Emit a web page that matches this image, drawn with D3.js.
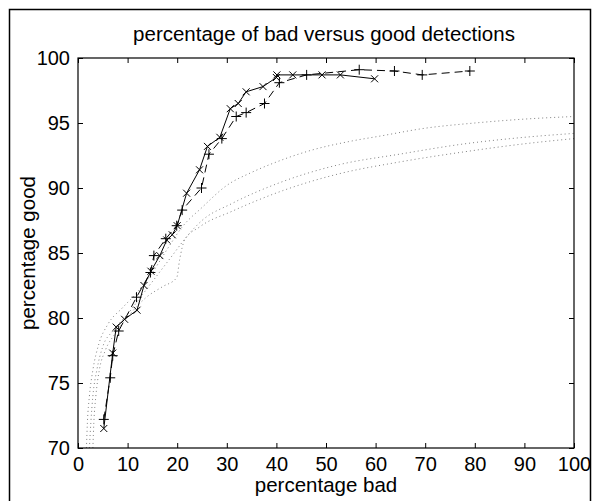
<!DOCTYPE html>
<meta charset="utf-8">
<script src="https://d3js.org/d3.v7.min.js"></script>
<style>
  body { margin: 0; background: #fff; }
  text { font-family: "Liberation Sans", Arial, sans-serif; fill: #000; }
</style>
<svg id="chart" width="592" height="501"></svg>
<script>

// solid line, x markers
var solidBad  = [5.2, 7.0, 7.7, 9.4, 11.9, 13.3, 14.7, 16.5, 17.9, 19.0, 20.0, 21.9, 24.5, 26.1, 28.6, 30.7, 32.3, 33.9, 37.3, 40.0, 40.1, 43.3, 49.2, 52.9, 59.8];
var solidGood = [71.5, 77.3, 79.3, 79.9, 80.6, 82.5, 83.6, 84.8, 86.0, 86.4, 87.1, 89.6, 91.4, 93.2, 93.9, 96.1, 96.5, 97.4, 97.8, 98.5, 98.7, 98.7, 98.7, 98.7, 98.4];

// dashed line, + markers
var dashBad  = [5.2, 6.5, 7.0, 8.2, 11.8, 14.6, 15.3, 17.7, 19.9, 21.0, 24.9, 26.4, 29.0, 31.9, 33.9, 37.6, 40.6, 46.1, 56.7, 63.8, 69.4, 79.0];
var dashGood = [72.2, 75.4, 77.1, 79.0, 81.6, 83.5, 84.8, 86.1, 87.1, 88.3, 90.0, 92.6, 93.8, 95.5, 95.8, 96.5, 98.1, 98.7, 99.1, 99.0, 98.7, 99.0];

// three dotted reference curves
var dot1Bad  = [1.7, 1.9, 2.3, 3.0, 4.2, 6.0, 9.0, 12.0, 15.0, 18.0, 21.0, 25.0, 30.0, 35.0, 40.0, 47.0, 55.0, 61.0, 70.0, 80.0, 90.0, 100];
var dot1Good = [70.0, 72.0, 74.0, 76.0, 78.0, 79.5, 80.8, 82.0, 83.5, 85.3, 87.0, 88.5, 90.2, 91.2, 92.0, 92.9, 93.6, 94.0, 94.6, 95.0, 95.3, 95.5];
var dot2Bad  = [2.3, 2.6, 3.0, 3.8, 5.0, 7.0, 10.0, 13.0, 16.0, 19.0, 22.0, 25.0, 31.0, 40.6, 52.7, 64.8, 78.0, 90.0, 100];
var dot2Good = [70.0, 72.0, 74.0, 76.0, 77.8, 79.0, 80.3, 81.8, 83.3, 84.8, 86.3, 87.5, 88.8, 90.4, 91.8, 92.6, 93.4, 93.9, 94.2];
var dot3Bad  = [3.0, 3.2, 3.6, 4.3, 5.5, 7.5, 10.5, 13.8, 17.0, 19.9, 20.5, 21.5, 24.5, 31.0, 41.3, 52.7, 64.8, 78.2, 90.0, 100];
var dot3Good = [70.0, 72.0, 74.0, 76.0, 77.5, 78.8, 80.3, 81.6, 82.4, 83.1, 84.5, 86.0, 87.0, 88.2, 89.8, 91.1, 92.0, 92.8, 93.4, 93.8];

var xTicks = [0, 10, 20, 30, 40, 50, 60, 70, 80, 90, 100];
var yTicks = [70, 75, 80, 85, 90, 95, 100];

var svg = d3.select("#chart");

// outer frame
svg.append("rect")
  .attr("x", 9.5).attr("y", 9.5)
  .attr("width", 581).attr("height", 520)
  .attr("fill", "none").attr("stroke", "#000").attr("stroke-width", 1.5);

var x = d3.scaleLinear().domain([0, 100]).range([78, 574]);
var y = d3.scaleLinear().domain([70, 100]).range([448, 58]);

function zip(a, b) { return a.map(function(v, i) { return [v, b[i]]; }); }

var line = d3.line()
  .x(function(d) { return x(d[0]); })
  .y(function(d) { return y(d[1]); });

// dotted curves
[[dot1Bad, dot1Good], [dot2Bad, dot2Good], [dot3Bad, dot3Good]].forEach(function(s) {
  svg.append("path")
    .attr("d", line.curve(d3.curveMonotoneX)(zip(s[0], s[1])))
    .attr("fill", "none")
    .attr("stroke", "#808080")
    .attr("stroke-width", 1)
    .attr("stroke-dasharray", "1,3");
});
line.curve(d3.curveLinear);

// dashed series
var dashPts = zip(dashBad, dashGood);
svg.append("path")
  .attr("d", line(dashPts))
  .attr("fill", "none").attr("stroke", "#000").attr("stroke-width", 1)
  .attr("stroke-dasharray", "8,5");
svg.append("g").selectAll("path")
  .data(dashPts).enter().append("path")
  .attr("d", function(d) {
    var cx = x(d[0]), cy = y(d[1]), r = 5;
    return "M" + (cx - r) + "," + cy + "H" + (cx + r) + "M" + cx + "," + (cy - r) + "V" + (cy + r);
  })
  .attr("stroke", "#000").attr("stroke-width", 1);

// solid series
var solidPts = zip(solidBad, solidGood);
svg.append("path")
  .attr("d", line(solidPts))
  .attr("fill", "none").attr("stroke", "#000").attr("stroke-width", 1);
svg.append("g").selectAll("path")
  .data(solidPts).enter().append("path")
  .attr("d", function(d) {
    var cx = x(d[0]), cy = y(d[1]), r = 3.5;
    return "M" + (cx - r) + "," + (cy - r) + "L" + (cx + r) + "," + (cy + r) +
           "M" + (cx - r) + "," + (cy + r) + "L" + (cx + r) + "," + (cy - r);
  })
  .attr("stroke", "#000").attr("stroke-width", 1);

// axes box with inward ticks
function styleAxis(g) {
  g.select(".domain").remove();
  g.selectAll("text").style("font-size", "20px").style("font-family", "Liberation Sans, Arial, sans-serif");
  g.selectAll("line").attr("stroke", "#000");
}
svg.append("g").attr("transform", "translate(0,448)")
  .call(d3.axisBottom(x).tickValues(xTicks).tickSize(-5).tickPadding(9))
  .call(styleAxis);
svg.append("g").attr("transform", "translate(0,58)")
  .call(d3.axisTop(x).tickValues(xTicks).tickSize(-5).tickFormat(""))
  .call(styleAxis);
svg.append("g").attr("transform", "translate(78,0)")
  .call(d3.axisLeft(y).tickValues(yTicks).tickSize(-5).tickPadding(8))
  .call(styleAxis);
svg.append("g").attr("transform", "translate(574,0)")
  .call(d3.axisRight(y).tickValues(yTicks).tickSize(-5).tickFormat(""))
  .call(styleAxis);

svg.append("rect")
  .attr("x", 78).attr("y", 58).attr("width", 496).attr("height", 390)
  .attr("fill", "none").attr("stroke", "#000").attr("stroke-width", 1.2);

// titles
svg.append("text").attr("x", 324).attr("y", 41).attr("text-anchor", "middle")
  .style("font-size", "20.5px").text("percentage of bad versus good detections");
svg.append("text").attr("x", 326).attr("y", 492).attr("text-anchor", "middle")
  .style("font-size", "20.5px").text("percentage bad");
svg.append("text").attr("transform", "translate(35,253) rotate(-90)").attr("text-anchor", "middle")
  .style("font-size", "20.5px").text("percentage good");

</script>
